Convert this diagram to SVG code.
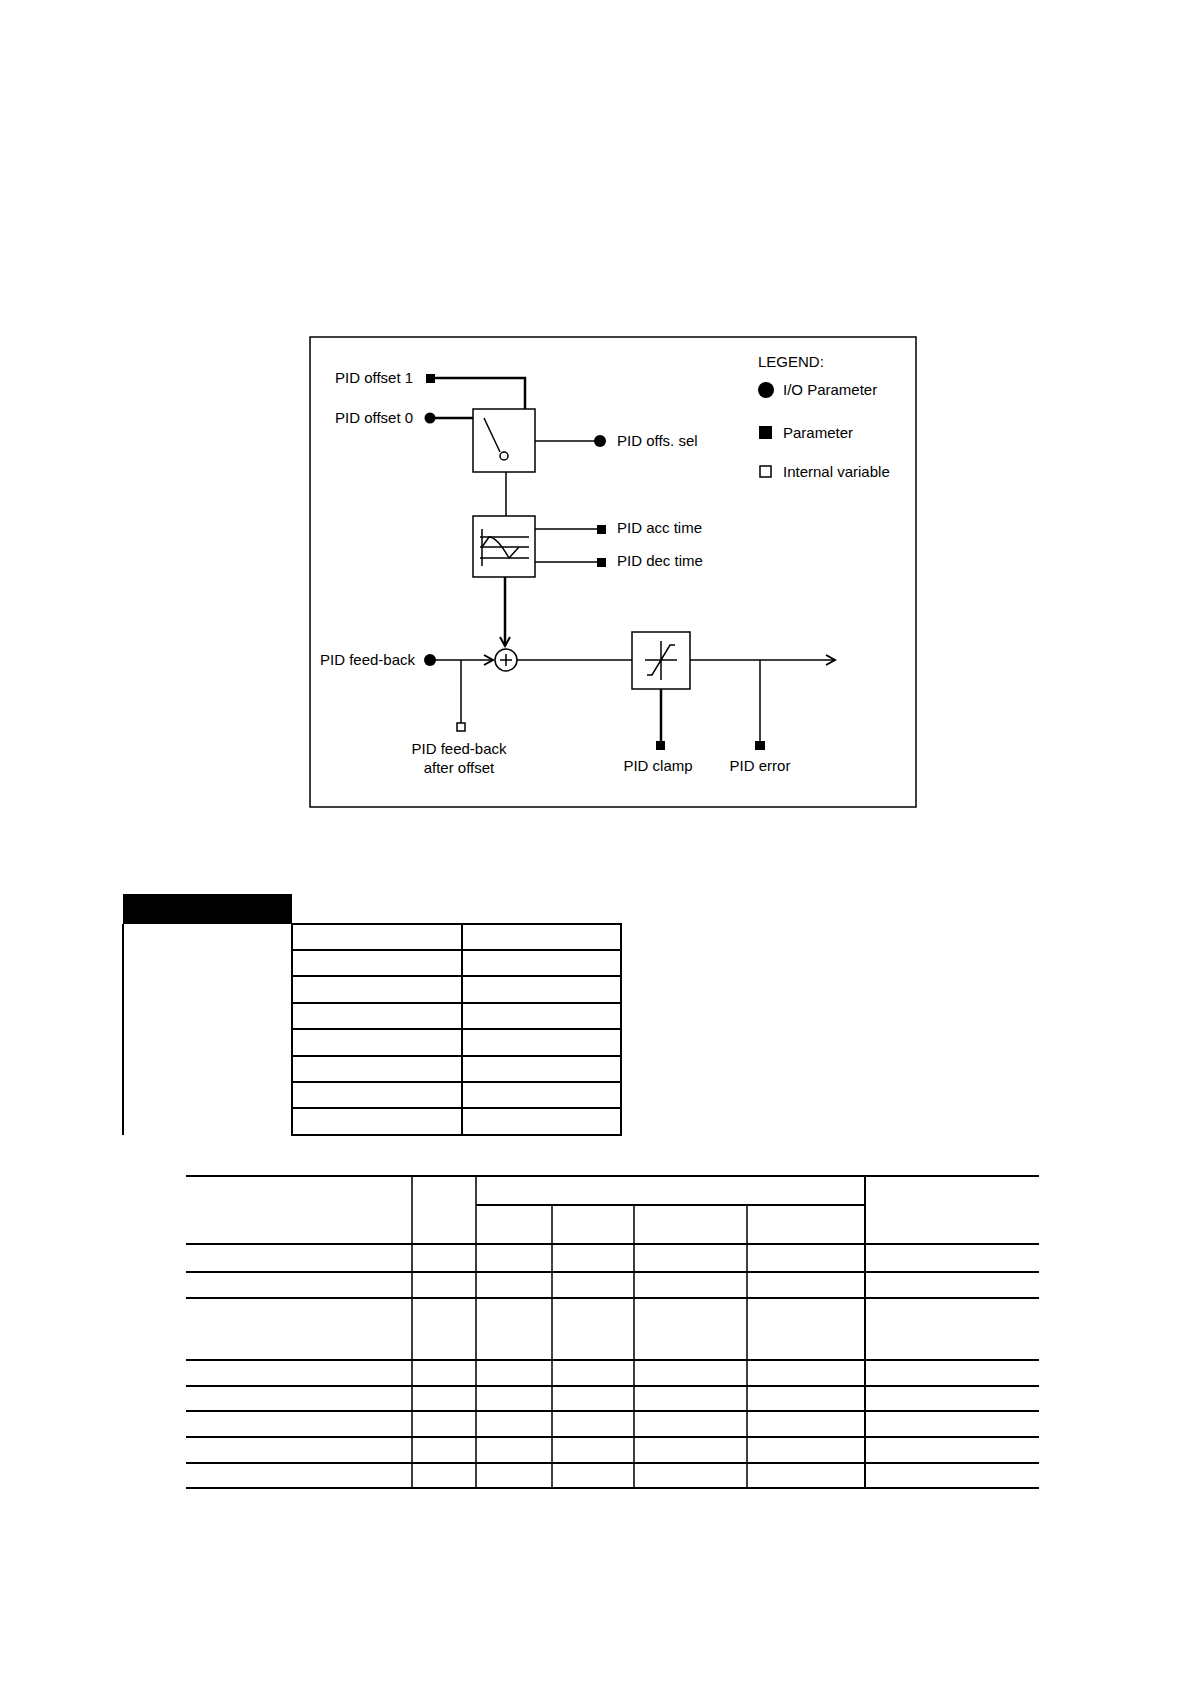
<svg xmlns="http://www.w3.org/2000/svg" width="1191" height="1684" viewBox="0 0 1191 1684">
<style>
text{font-family:"Liberation Sans",Arial,sans-serif;font-size:15px;fill:#000}
.l{stroke:#000;stroke-width:1.5;fill:none}
.t{stroke:#000;stroke-width:2.5;fill:none}
.b{fill:#fff;stroke:#000;stroke-width:1.5}
.g{stroke:#000;stroke-width:2;fill:none}
</style>
<defs>
<marker id="ar" markerWidth="12" markerHeight="12" refX="10" refY="6" orient="auto" markerUnits="userSpaceOnUse"><path d="M1,1 L10,6 L1,11" fill="none" stroke="#000" stroke-width="2"/></marker>
</defs>
<rect x="310" y="337" width="606" height="470" class="l" stroke-width="1"/>
<g id="connectors">
<path class="t" d="M435,378 H525 V441"/>
<path class="t" d="M430,418 H484 L500,452"/>
<path class="l" d="M535,441 H600"/>
<path class="l" d="M506,472 V516"/>
<path class="l" d="M535,529 H601 M535,562 H601"/>
<path class="t" d="M505,577 V646" marker-end="url(#ar)"/>
<path class="l" d="M430,660 H493" marker-end="url(#ar)"/>
<path class="l" d="M461,660 V724"/>
<path class="l" d="M517,660 H632"/>
<path class="t" d="M661,689 V742"/>
<path class="l" d="M690,660 H835" marker-end="url(#ar)"/>
<path class="l" d="M760,660 V742"/>
</g>
<g id="pid-offset-1"><rect x="426" y="374" width="9" height="9"/><text x="335" y="383">PID offset 1</text></g>
<g id="pid-offset-0"><circle cx="430" cy="418" r="5.5"/><text x="335" y="423">PID offset 0</text></g>
<g id="switch"><rect x="473" y="409" width="62" height="63" class="b"/><path class="l" d="M484,418 L500,452"/><circle cx="504" cy="456" r="4" class="b"/></g>
<g id="pid-offs-sel"><circle cx="600" cy="441" r="6"/><text x="617" y="446">PID offs. sel</text></g>
<g id="ramp"><rect x="473" y="516" width="62" height="61" class="b"/>
<path class="l" d="M480,537 H529 M480,547 H529 M480,558 H529 M482,529 V566"/>
<path class="l" d="M482,547 L489,537 Q497,537 509,558 L519,547"/></g>
<g id="pid-acc"><rect x="597" y="525" width="9" height="9"/><text x="617" y="533">PID acc time</text></g>
<g id="pid-dec"><rect x="597" y="558" width="9" height="9"/><text x="617" y="566">PID dec time</text></g>
<g id="sum"><circle cx="506" cy="660" r="11" class="b"/><path class="l" d="M500,660 H512 M506,654 V666"/></g>
<g id="pid-feedback"><circle cx="430" cy="660" r="6"/><text x="320" y="665">PID feed-back</text></g>
<g id="fb-after"><rect x="457" y="723" width="8" height="8" class="b"/><text x="459" y="754" text-anchor="middle">PID feed-back</text><text x="459" y="773" text-anchor="middle">after offset</text></g>
<g id="limiter"><rect x="632" y="632" width="58" height="57" class="b"/>
<path class="l" d="M645,660 H677 M661,641 V680 M647,675 H652 L670,645 H675"/></g>
<g id="pid-clamp"><rect x="656" y="741" width="9" height="9"/><text x="658" y="771" text-anchor="middle">PID clamp</text></g>
<g id="pid-error"><rect x="755" y="741" width="10" height="9"/><text x="760" y="771" text-anchor="middle">PID error</text></g>
<g id="legend">
<text x="758" y="367">LEGEND:</text>
<circle cx="766" cy="390" r="8"/><text x="783" y="395">I/O Parameter</text>
<rect x="759" y="426" width="13" height="13"/><text x="783" y="438">Parameter</text>
<rect x="760" y="466" width="11" height="11" class="b"/><text x="783" y="477">Internal variable</text>
</g>
<g id="table1">
<rect x="123" y="894" width="169" height="30" fill="#000"/>
<path class="g" d="M123,924 V1135"/>
<rect x="292" y="924" width="329" height="211" class="g"/>
<path class="g" d="M462,924 V1135 M292,950 H621 M292,976 H621 M292,1003 H621 M292,1029 H621 M292,1056 H621 M292,1082 H621 M292,1108 H621"/>
</g>
<g id="table2">
<path class="g" d="M186,1176 H1039 M186,1244 H1039 M186,1272 H1039 M186,1298 H1039 M186,1360 H1039 M186,1386 H1039 M186,1411 H1039 M186,1437 H1039 M186,1463 H1039 M186,1488 H1039"/>
<path class="g" d="M865,1176 V1488 M476,1205 H865"/>
<path class="l" d="M412,1176 V1488 M476,1176 V1488 M552,1205 V1488 M634,1205 V1488 M747,1205 V1488"/>
</g>
</svg>
